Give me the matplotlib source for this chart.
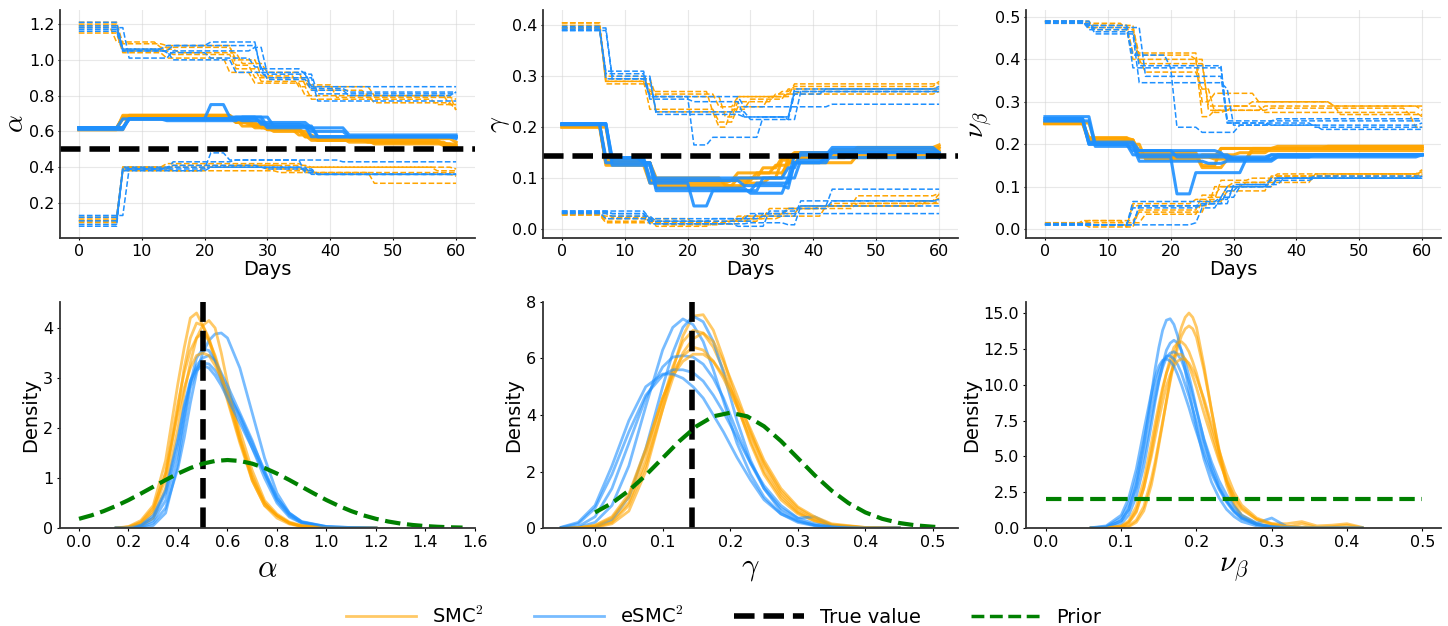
import numpy as np
import matplotlib
matplotlib.use("Agg")
import matplotlib.pyplot as plt
from matplotlib.lines import Line2D

plt.rcParams['mathtext.fontset'] = 'cm'

ORANGE = "orange"
BLUE = "dodgerblue"

# ---- top row: (day, value) change points per run, 5 runs per method ----
ALPHA_SMC_MED = [
    [(0, 0.61), (7, 0.69), (25, 0.66), (27, 0.64), (30, 0.61), (36, 0.57), (38, 0.55), (47, 0.53), (60, 0.51)],
    [(0, 0.62), (7, 0.68), (25, 0.65), (28, 0.62), (31, 0.60), (37, 0.56), (43, 0.54), (58, 0.52)],
    [(0, 0.61), (7, 0.68), (24, 0.67), (26, 0.63), (30, 0.61), (35, 0.58), (37, 0.55), (58, 0.53)],
    [(0, 0.61), (8, 0.69), (25, 0.66), (28, 0.63), (32, 0.61), (36, 0.57), (38, 0.55), (46, 0.54), (59, 0.52)],
    [(0, 0.62), (7, 0.67), (15, 0.68), (25, 0.65), (29, 0.62), (36, 0.58), (38, 0.56), (60, 0.54)],
]
ALPHA_SMC_HI = [
    [(0, 1.21), (7, 1.09), (14, 1.08), (25, 0.97), (28, 0.90), (37, 0.85), (47, 0.80), (59, 0.75)],
    [(0, 1.20), (7, 1.05), (15, 1.03), (25, 0.95), (29, 0.88), (37, 0.83), (46, 0.80), (60, 0.72)],
    [(0, 1.19), (7, 1.06), (16, 1.04), (26, 0.98), (30, 0.93), (36, 0.86), (41, 0.79), (60, 0.78)],
    [(0, 1.15), (7, 1.04), (14, 1.01), (24, 0.93), (28, 0.87), (36, 0.80), (47, 0.76), (60, 0.72)],
    [(0, 1.18), (6, 1.10), (13, 1.07), (25, 1.00), (29, 0.91), (35, 0.85), (37, 0.78), (57, 0.75)],
]
ALPHA_SMC_LO = [
    [(0, 0.10), (7, 0.40), (15, 0.38), (32, 0.37), (47, 0.31)],
    [(0, 0.11), (7, 0.39), (15, 0.41), (37, 0.40), (60, 0.39)],
    [(0, 0.09), (7, 0.40), (25, 0.41), (33, 0.38), (38, 0.36), (60, 0.35)],
    [(0, 0.12), (7, 0.38), (20, 0.40), (30, 0.39), (37, 0.37)],
    [(0, 0.10), (7, 0.40), (14, 0.42), (36, 0.40), (57, 0.38)],
]
ALPHA_ESMC_MED = [
    [(0, 0.62), (8, 0.67), (21, 0.75), (24, 0.68), (30, 0.63), (37, 0.57), (60, 0.57)],
    [(0, 0.62), (8, 0.67), (25, 0.68), (29, 0.64), (36, 0.63), (38, 0.57), (60, 0.56)],
    [(0, 0.62), (7, 0.67), (14, 0.66), (26, 0.68), (31, 0.63), (37, 0.60), (43, 0.57)],
    [(0, 0.62), (8, 0.67), (25, 0.67), (29, 0.65), (37, 0.62), (43, 0.58), (60, 0.58)],
    [(0, 0.61), (8, 0.67), (26, 0.66), (30, 0.62), (38, 0.57)],
]
ALPHA_ESMC_HI = [
    [(0, 1.19), (7, 1.06), (14, 1.08), (21, 1.10), (29, 0.93), (37, 0.85), (60, 0.85)],
    [(0, 1.18), (8, 1.01), (15, 1.05), (28, 1.07), (30, 0.92), (37, 0.84), (43, 0.82)],
    [(0, 1.17), (7, 1.05), (15, 1.08), (29, 0.95), (36, 0.92), (38, 0.81)],
    [(0, 1.21), (7, 1.06), (14, 1.04), (21, 1.01), (28, 0.96), (30, 0.89), (37, 0.83), (43, 0.80), (60, 0.82)],
    [(0, 1.16), (7, 1.05), (15, 1.00), (25, 0.93), (30, 0.90), (38, 0.77), (60, 0.77)],
]
ALPHA_ESMC_LO = [
    [(0, 0.13), (8, 0.39), (21, 0.48), (24, 0.44), (36, 0.37), (38, 0.36)],
    [(0, 0.07), (7, 0.39), (15, 0.43), (25, 0.44), (42, 0.43)],
    [(0, 0.12), (7, 0.40), (15, 0.41), (29, 0.40), (36, 0.38), (38, 0.36)],
    [(0, 0.08), (7, 0.39), (14, 0.40), (37, 0.36), (60, 0.36)],
    [(0, 0.10), (7, 0.38), (21, 0.40), (30, 0.39), (38, 0.36)],
]

GAMMA_SMC_MED = [
    [(0, 0.205), (7, 0.13), (15, 0.085), (28, 0.10), (32, 0.12), (35, 0.14), (37, 0.15), (47, 0.16), (60, 0.165)],
    [(0, 0.205), (7, 0.125), (14, 0.09), (27, 0.095), (31, 0.11), (36, 0.13), (38, 0.14), (46, 0.15), (60, 0.155)],
    [(0, 0.200), (7, 0.13), (15, 0.08), (29, 0.09), (33, 0.10), (36, 0.14), (43, 0.155), (60, 0.16)],
    [(0, 0.205), (7, 0.135), (14, 0.095), (28, 0.11), (34, 0.125), (37, 0.145), (46, 0.14), (59, 0.15)],
    [(0, 0.200), (8, 0.13), (15, 0.10), (26, 0.085), (30, 0.10), (35, 0.135), (37, 0.13), (47, 0.145), (60, 0.16)],
]
GAMMA_SMC_HI = [
    [(0, 0.405), (7, 0.29), (14, 0.265), (25, 0.24), (28, 0.26), (35, 0.27), (37, 0.28), (60, 0.29)],
    [(0, 0.400), (7, 0.285), (15, 0.23), (25, 0.20), (27, 0.235), (30, 0.255), (36, 0.275), (60, 0.28)],
    [(0, 0.395), (7, 0.30), (14, 0.27), (24, 0.23), (28, 0.26), (37, 0.285), (60, 0.285)],
    [(0, 0.405), (7, 0.295), (15, 0.26), (26, 0.22), (28, 0.25), (34, 0.265), (38, 0.27), (60, 0.275)],
    [(0, 0.395), (7, 0.29), (14, 0.235), (25, 0.21), (28, 0.24), (33, 0.26), (36, 0.265), (60, 0.27)],
]
GAMMA_SMC_LO = [
    [(0, 0.030), (7, 0.015), (14, 0.02), (21, 0.01), (28, 0.02), (33, 0.04), (41, 0.045), (47, 0.065), (60, 0.07)],
    [(0, 0.028), (7, 0.025), (15, 0.005), (24, 0.01), (29, 0.025), (35, 0.03), (38, 0.045), (57, 0.055), (60, 0.06)],
    [(0, 0.032), (8, 0.022), (15, 0.012), (27, 0.015), (32, 0.03), (36, 0.04), (43, 0.05), (60, 0.055)],
    [(0, 0.030), (7, 0.02), (14, 0.015), (28, 0.025), (36, 0.04), (47, 0.05), (60, 0.05)],
    [(0, 0.027), (7, 0.012), (16, 0.008), (26, 0.015), (30, 0.02), (35, 0.025), (42, 0.045), (58, 0.055), (60, 0.068)],
]
GAMMA_ESMC_MED = [
    [(0, 0.207), (8, 0.135), (14, 0.09), (21, 0.045), (24, 0.075), (32, 0.10), (37, 0.145), (43, 0.16), (60, 0.15)],
    [(0, 0.205), (8, 0.14), (14, 0.10), (30, 0.10), (36, 0.12), (38, 0.15), (60, 0.14)],
    [(0, 0.205), (7, 0.13), (15, 0.075), (28, 0.075), (31, 0.09), (37, 0.13), (43, 0.15), (60, 0.145)],
    [(0, 0.207), (8, 0.125), (15, 0.08), (30, 0.07), (36, 0.10), (38, 0.135), (43, 0.155), (60, 0.15)],
    [(0, 0.205), (7, 0.14), (13, 0.13), (15, 0.095), (29, 0.085), (36, 0.08), (37, 0.13), (42, 0.14)],
]
GAMMA_ESMC_HI = [
    [(0, 0.390), (7, 0.31), (14, 0.26), (21, 0.165), (24, 0.18), (32, 0.22), (37, 0.275), (60, 0.275)],
    [(0, 0.395), (8, 0.30), (15, 0.225), (29, 0.22), (36, 0.215), (38, 0.27), (60, 0.27)],
    [(0, 0.392), (7, 0.295), (14, 0.26), (29, 0.24), (43, 0.245)],
    [(0, 0.390), (8, 0.295), (15, 0.23), (30, 0.215), (37, 0.265), (42, 0.275), (60, 0.28)],
    [(0, 0.398), (7, 0.305), (14, 0.255), (21, 0.25), (29, 0.22), (37, 0.27), (60, 0.27)],
]
GAMMA_ESMC_LO = [
    [(0, 0.035), (14, 0.02), (32, 0.025), (38, 0.055), (60, 0.058)],
    [(0, 0.033), (8, 0.03), (14, 0.01), (30, 0.012), (36, 0.008), (38, 0.045), (43, 0.078), (60, 0.078)],
    [(0, 0.030), (8, 0.025), (15, 0.015), (31, 0.03)],
    [(0, 0.032), (7, 0.02), (15, 0.01), (28, 0.005), (33, 0.035), (38, 0.045), (60, 0.045)],
    [(0, 0.035), (8, 0.03), (14, 0.015), (24, 0.02), (30, 0.03), (36, 0.04), (43, 0.055)],
]

NU_SMC_MED = [
    [(0, 0.250), (7, 0.215), (14, 0.21), (15, 0.18), (25, 0.15), (28, 0.19), (37, 0.195)],
    [(0, 0.250), (7, 0.21), (15, 0.175), (25, 0.145), (29, 0.165), (33, 0.19)],
    [(0, 0.250), (8, 0.205), (15, 0.17), (28, 0.19)],
    [(0, 0.250), (7, 0.215), (14, 0.20), (16, 0.165), (25, 0.175), (31, 0.18), (36, 0.19), (45, 0.195)],
    [(0, 0.248), (7, 0.205), (13, 0.21), (15, 0.17), (27, 0.165), (33, 0.185)],
]
NU_SMC_HI = [
    [(0, 0.490), (7, 0.48), (14, 0.415), (25, 0.30), (27, 0.32), (34, 0.30), (46, 0.29), (60, 0.28)],
    [(0, 0.487), (7, 0.485), (13, 0.47), (15, 0.40), (25, 0.265), (27, 0.28), (35, 0.29), (47, 0.27), (59, 0.24)],
    [(0, 0.485), (7, 0.475), (15, 0.41), (24, 0.40), (26, 0.28), (30, 0.29), (33, 0.30), (46, 0.29)],
    [(0, 0.490), (8, 0.47), (14, 0.40), (16, 0.37), (25, 0.33), (27, 0.275), (29, 0.28), (36, 0.285), (58, 0.27)],
    [(0, 0.488), (7, 0.48), (15, 0.39), (26, 0.29), (35, 0.275), (60, 0.265)],
]
NU_SMC_LO = [
    [(0, 0.015), (7, 0.02), (13, 0.005), (14, 0.06), (24, 0.07), (28, 0.115), (33, 0.12), (37, 0.13), (60, 0.14)],
    [(0, 0.012), (7, 0.005), (15, 0.045), (25, 0.08), (28, 0.10), (32, 0.11), (43, 0.13), (60, 0.135)],
    [(0, 0.015), (16, 0.035), (25, 0.065), (29, 0.09), (36, 0.125), (60, 0.13)],
    [(0, 0.013), (7, 0.01), (14, 0.055), (27, 0.10), (30, 0.11), (36, 0.12), (59, 0.125)],
    [(0, 0.010), (6, 0.02), (15, 0.04), (26, 0.075), (29, 0.10), (37, 0.125), (47, 0.13)],
]
NU_ESMC_MED = [
    [(0, 0.265), (8, 0.20), (15, 0.17), (21, 0.083), (24, 0.133), (31, 0.133), (32, 0.165), (37, 0.175)],
    [(0, 0.260), (7, 0.205), (15, 0.185), (28, 0.18), (29, 0.165), (37, 0.17), (60, 0.175)],
    [(0, 0.255), (7, 0.20), (14, 0.175), (30, 0.165), (36, 0.175)],
    [(0, 0.255), (8, 0.195), (15, 0.16), (26, 0.155), (29, 0.16), (37, 0.17), (43, 0.175)],
    [(0, 0.260), (7, 0.20), (14, 0.185), (21, 0.17), (36, 0.175)],
]
NU_ESMC_HI = [
    [(0, 0.490), (7, 0.47), (14, 0.41), (20, 0.38), (21, 0.24), (25, 0.228), (31, 0.245), (36, 0.255)],
    [(0, 0.490), (8, 0.465), (15, 0.385), (29, 0.25), (43, 0.24)],
    [(0, 0.487), (7, 0.48), (14, 0.38), (29, 0.255), (37, 0.26)],
    [(0, 0.485), (8, 0.46), (15, 0.345), (29, 0.33), (30, 0.245), (44, 0.235)],
    [(0, 0.490), (7, 0.475), (16, 0.36), (29, 0.25), (36, 0.245), (60, 0.25)],
]
NU_ESMC_LO = [
    [(0, 0.010), (24, 0.015), (25, 0.05), (28, 0.075), (31, 0.10), (37, 0.12)],
    [(0, 0.012), (7, 0.01), (14, 0.065), (28, 0.075), (29, 0.10), (36, 0.12), (60, 0.125)],
    [(0, 0.010), (15, 0.055), (26, 0.06), (29, 0.09), (31, 0.105), (38, 0.12), (43, 0.125)],
    [(0, 0.013), (8, 0.01), (14, 0.05), (25, 0.06), (28, 0.07), (30, 0.10), (37, 0.12)],
    [(0, 0.010), (15, 0.055), (25, 0.06), (30, 0.105), (36, 0.115), (43, 0.12)],
]

ALPHA_TRUE = 0.5
GAMMA_TRUE = 0.143

# ---- bottom row: posterior density curves read on a shared grid ----
ALPHA_GRID = [0.15, 0.2, 0.25, 0.3, 0.35, 0.4, 0.425, 0.45, 0.475, 0.5, 0.525, 0.55,
              0.575, 0.6, 0.65, 0.7, 0.75, 0.8, 0.85, 0.9, 1.0, 1.1, 1.2]
ALPHA_SMC_KDE = [
    [0, 0.03, 0.15, 0.45, 1.35, 2.9, 3.6, 4.2, 4.3, 4.05, 3.75, 3.35, 2.95, 2.55, 1.7, 0.95, 0.45, 0.25, 0.1, 0.04, 0, 0, 0],
    [0, 0.01, 0.08, 0.3, 1.0, 2.4, 3.2, 3.8, 4.1, 4.05, 3.8, 3.4, 3.0, 2.6, 1.75, 1.0, 0.5, 0.25, 0.1, 0.03, 0, 0, 0],
    [0, 0, 0.05, 0.2, 0.8, 2.0, 2.7, 3.3, 3.8, 4.05, 4.15, 4.0, 3.5, 2.9, 1.8, 0.95, 0.45, 0.2, 0.08, 0.03, 0, 0, 0],
    [0, 0.02, 0.1, 0.35, 1.1, 2.5, 3.1, 3.55, 3.8, 3.9, 3.75, 3.45, 3.05, 2.65, 1.8, 1.05, 0.5, 0.25, 0.1, 0.04, 0, 0, 0],
    [0, 0.02, 0.12, 0.4, 1.1, 2.3, 2.8, 3.2, 3.45, 3.5, 3.45, 3.25, 3.0, 2.7, 1.95, 1.15, 0.55, 0.28, 0.12, 0.05, 0.01, 0, 0],
]
ALPHA_ESMC_KDE = [
    [0, 0, 0.02, 0.1, 0.4, 1.2, 1.8, 2.5, 3.1, 3.5, 3.75, 3.88, 3.9, 3.8, 3.2, 2.3, 1.4, 0.7, 0.3, 0.12, 0.02, 0.01, 0],
    [0, 0, 0.03, 0.15, 0.55, 1.5, 2.2, 2.9, 3.4, 3.58, 3.55, 3.35, 3.05, 2.75, 2.2, 1.6, 1.0, 0.5, 0.22, 0.1, 0.02, 0, 0],
    [0, 0, 0.05, 0.2, 0.7, 1.7, 2.4, 2.9, 3.25, 3.4, 3.45, 3.35, 3.1, 2.85, 2.3, 1.75, 1.1, 0.55, 0.25, 0.1, 0.02, 0, 0],
    [0, 0.01, 0.06, 0.25, 0.75, 1.8, 2.45, 2.95, 3.2, 3.3, 3.28, 3.15, 2.95, 2.7, 2.25, 1.7, 1.15, 0.6, 0.28, 0.12, 0.03, 0.01, 0],
    [0, 0, 0, 0.05, 0.3, 1.3, 2.1, 2.8, 3.15, 3.25, 3.2, 3.05, 2.85, 2.6, 2.1, 1.6, 1.1, 0.6, 0.3, 0.13, 0.03, 0.01, 0],
]

GAMMA_GRID = [-0.05, -0.025, 0.0, 0.025, 0.05, 0.075, 0.1, 0.115, 0.13, 0.145, 0.16, 0.175,
              0.19, 0.21, 0.23, 0.25, 0.275, 0.3, 0.325, 0.35, 0.4, 0.45]
GAMMA_SMC_KDE = [
    [0, 0, 0.02, 0.15, 0.6, 2.0, 4.2, 5.6, 6.8, 7.5, 7.55, 7.0, 6.0, 4.4, 3.0, 1.9, 1.0, 0.5, 0.25, 0.08, 0.01, 0],
    [0, 0, 0.05, 0.25, 0.9, 2.4, 4.5, 5.7, 6.6, 7.0, 6.9, 6.4, 5.6, 4.3, 3.1, 2.0, 1.1, 0.55, 0.25, 0.08, 0.01, 0],
    [0, 0, 0.03, 0.2, 0.8, 2.2, 4.2, 5.3, 6.2, 6.7, 6.9, 6.6, 5.9, 4.7, 3.4, 2.2, 1.2, 0.6, 0.3, 0.1, 0.01, 0],
    [0, 0.01, 0.08, 0.35, 1.1, 2.7, 4.6, 5.5, 6.1, 6.4, 6.3, 5.9, 5.3, 4.3, 3.3, 2.3, 1.3, 0.7, 0.35, 0.12, 0.02, 0],
    [0, 0.01, 0.1, 0.4, 1.2, 2.8, 4.6, 5.4, 5.9, 6.15, 6.15, 5.9, 5.4, 4.5, 3.5, 2.4, 1.4, 0.75, 0.4, 0.15, 0.02, 0],
]
GAMMA_ESMC_KDE = [
    [0, 0.02, 0.2, 0.8, 2.2, 4.3, 6.3, 7.1, 7.4, 7.2, 6.6, 5.6, 4.5, 3.0, 1.9, 1.1, 0.5, 0.2, 0.08, 0.02, 0, 0],
    [0, 0, 0.05, 0.3, 1.1, 2.8, 5.0, 6.2, 7.1, 7.5, 7.3, 6.6, 5.5, 3.8, 2.4, 1.4, 0.6, 0.25, 0.1, 0.03, 0, 0],
    [0, 0.05, 0.4, 1.4, 3.0, 4.6, 5.7, 6.05, 6.1, 6.05, 5.8, 5.3, 4.6, 3.4, 2.3, 1.4, 0.7, 0.35, 0.4, 0.1, 0, 0],
    [0.02, 0.15, 0.7, 1.9, 3.4, 4.7, 5.4, 5.6, 5.6, 5.5, 5.2, 4.7, 4.1, 3.2, 2.3, 1.5, 0.8, 0.35, 0.15, 0.05, 0, 0],
    [0.03, 0.2, 0.8, 2.2, 3.8, 5.0, 5.45, 5.45, 5.3, 5.0, 4.6, 4.0, 3.4, 2.5, 1.7, 1.0, 0.5, 0.25, 0.1, 0.03, 0, 0],
]

NU_GRID = [0.06, 0.08, 0.1, 0.11, 0.12, 0.13, 0.14, 0.145, 0.15, 0.155, 0.16, 0.165, 0.17, 0.175,
           0.18, 0.185, 0.19, 0.195, 0.2, 0.21, 0.22, 0.23, 0.24, 0.25, 0.26, 0.28, 0.3, 0.32,
           0.34, 0.36, 0.38, 0.4, 0.42]
NU_SMC_KDE = [
    [0, 0, 0.02, 0.1, 0.4, 1.2, 3.0, 4.3, 5.8, 7.3, 8.9, 10.4, 11.8, 13.0, 14.0, 14.7, 15.0, 14.7, 14.0,
     11.3, 8.2, 5.3, 3.0, 1.6, 0.8, 0.25, 0.08, 0.02, 0, 0, 0, 0, 0],
    [0, 0, 0.03, 0.15, 0.55, 1.5, 3.4, 4.6, 6.0, 7.4, 8.8, 10.2, 11.5, 12.6, 13.4, 13.9, 14.1, 13.9, 13.3,
     11.0, 8.2, 5.5, 3.3, 1.8, 0.9, 0.3, 0.1, 0.05, 0.3, 0.05, 0.1, 0.2, 0.02],
    [0, 0.01, 0.08, 0.35, 1.1, 2.8, 5.3, 6.8, 8.2, 9.6, 10.8, 11.8, 12.6, 12.9, 13.0, 12.75, 12.3, 11.6, 10.8,
     8.8, 6.8, 4.9, 3.3, 2.1, 1.3, 0.6, 0.3, 0.3, 0.45, 0.15, 0.2, 0.3, 0.05],
    [0, 0.02, 0.15, 0.5, 1.5, 3.3, 5.9, 7.3, 8.6, 9.8, 10.8, 11.5, 12.0, 12.15, 12.1, 11.8, 11.3, 10.6, 9.8,
     8.0, 6.3, 4.7, 3.3, 2.2, 1.4, 0.6, 0.25, 0.1, 0.05, 0.02, 0, 0, 0],
    [0, 0.01, 0.1, 0.4, 1.2, 2.8, 5.0, 6.3, 7.6, 8.8, 9.9, 10.7, 11.3, 11.65, 11.8, 11.75, 11.5, 11.05, 10.5,
     9.0, 7.2, 5.4, 3.8, 2.5, 1.6, 0.7, 0.3, 0.1, 0.03, 0.01, 0, 0, 0],
]
NU_ESMC_KDE = [
    [0, 0.05, 0.5, 1.3, 3.0, 5.8, 9.3, 11.1, 12.6, 13.8, 14.5, 14.6, 14.2, 13.4, 12.3, 11.0, 9.6, 8.3, 7.0,
     4.8, 3.2, 2.1, 1.3, 0.8, 0.45, 0.15, 0.05, 0.01, 0, 0, 0, 0, 0],
    [0, 0.03, 0.3, 0.9, 2.2, 4.3, 7.2, 8.8, 10.2, 11.4, 12.4, 12.9, 13.1, 12.9, 12.4, 11.6, 10.6, 9.5, 8.3,
     6.1, 4.3, 2.9, 1.9, 1.2, 0.7, 0.25, 0.08, 0.02, 0, 0, 0, 0, 0],
    [0, 0.05, 0.5, 1.3, 2.8, 5.0, 7.8, 9.1, 10.3, 11.2, 11.9, 12.2, 12.3, 12.1, 11.7, 11.0, 10.2, 9.2, 8.2,
     6.2, 4.6, 3.3, 2.3, 1.5, 0.9, 0.35, 0.7, 0.1, 0.02, 0, 0, 0, 0],
    [0.01, 0.1, 0.7, 1.7, 3.5, 6.0, 8.7, 9.9, 10.9, 11.6, 12.0, 12.0, 11.8, 11.4, 10.8, 10.0, 9.2, 8.3, 7.4,
     5.6, 4.0, 2.8, 1.9, 1.2, 0.7, 0.3, 0.1, 0.03, 0, 0, 0, 0, 0],
    [0.02, 0.15, 0.9, 2.1, 4.1, 6.8, 9.4, 10.5, 11.3, 11.7, 11.8, 11.65, 11.3, 10.7, 10.0, 9.2, 8.4, 7.5, 6.7,
     5.1, 3.8, 2.7, 1.8, 1.1, 0.65, 0.25, 0.1, 0.04, 0.01, 0, 0, 0, 0],
]

# prior densities
ALPHA_PRIOR_X = [0.0, 0.05, 0.1, 0.15, 0.2, 0.25, 0.3, 0.35, 0.4, 0.45, 0.5, 0.55, 0.6, 0.65, 0.7, 0.75,
                 0.8, 0.85, 0.9, 0.95, 1.0, 1.05, 1.1, 1.15, 1.2, 1.25, 1.3, 1.35, 1.4, 1.45, 1.5, 1.55]
ALPHA_PRIOR_Y = [0.184, 0.253, 0.339, 0.442, 0.559, 0.689, 0.825, 0.961, 1.089, 1.2, 1.287, 1.341, 1.36, 1.341,
                 1.287, 1.2, 1.089, 0.961, 0.825, 0.689, 0.559, 0.442, 0.339, 0.253, 0.184, 0.13, 0.089, 0.06,
                 0.039, 0.025, 0.015, 0.009]
GAMMA_PRIOR_X = [0.0, 0.025, 0.05, 0.075, 0.1, 0.125, 0.15, 0.175, 0.2, 0.225, 0.25, 0.275, 0.3, 0.325,
                 0.35, 0.375, 0.4, 0.425, 0.45, 0.475, 0.5, 0.51]
GAMMA_PRIOR_Y = [0.552, 0.882, 1.325, 1.868, 2.475, 3.08, 3.601, 3.954, 4.08, 3.954, 3.601, 3.08, 2.475, 1.868,
                 1.325, 0.882, 0.552, 0.325, 0.179, 0.093, 0.045, 0.03]
NU_PRIOR_X = [0.0, 0.5]
NU_PRIOR_Y = [2.0, 2.0]


def step_path(steps, last_day=60):
    days = [steps[0][0]]
    vals = [steps[0][1]]
    for d, v in steps[1:]:
        days += [d - 1, d]
        vals += [vals[-1], v]
    if days[-1] < last_day:
        days.append(last_day)
        vals.append(vals[-1])
    return days, vals


def draw_traces(ax, med, lo, hi, color):
    for runs, ls, lw, al in [(hi, '--', 1.1, 1.0), (lo, '--', 1.1, 1.0), (med, '-', 2.2, 0.9)]:
        for steps in runs:
            d, v = step_path(steps)
            ax.plot(d, v, ls, color=color, lw=lw, alpha=al)


def style_spines(ax):
    for s in ['top', 'right']:
        ax.spines[s].set_visible(False)
    for s in ['left', 'bottom']:
        ax.spines[s].set_linewidth(1.3)
        ax.spines[s].set_color('#333333')


fig = plt.figure(figsize=(14.48, 6.26), dpi=100)
W = 0.2866
lefts = [0.0414, 0.375, 0.7086]
top_axes = [fig.add_axes([l, 0.6198, W, 0.364]) for l in lefts]
bot_axes = [fig.add_axes([l, 0.1565, W, 0.3611]) for l in lefts]

tick_fs = 11.5

top_data = [
    (ALPHA_SMC_MED, ALPHA_SMC_LO, ALPHA_SMC_HI, ALPHA_ESMC_MED, ALPHA_ESMC_LO, ALPHA_ESMC_HI, r'$\alpha$', ALPHA_TRUE, (0.004, 1.278), np.arange(0.2, 1.21, 0.2)),
    (GAMMA_SMC_MED, GAMMA_SMC_LO, GAMMA_SMC_HI, GAMMA_ESMC_MED, GAMMA_ESMC_LO, GAMMA_ESMC_HI, r'$\gamma$', GAMMA_TRUE, (-0.018, 0.43), np.arange(0.0, 0.41, 0.1)),
    (NU_SMC_MED, NU_SMC_LO, NU_SMC_HI, NU_ESMC_MED, NU_ESMC_LO, NU_ESMC_HI, r'$\nu_\beta$', None, (-0.021, 0.516), np.arange(0.0, 0.51, 0.1)),
]
for ax, (sm, sl, sh, em, el, eh, lab, truth, ylim, yt) in zip(top_axes, top_data):
    draw_traces(ax, sm, sl, sh, ORANGE)
    draw_traces(ax, em, el, eh, BLUE)
    if truth is not None:
        ax.axhline(truth, color='black', ls='--', lw=4)
    ax.set_xlim(-3, 63)
    ax.set_ylim(*ylim)
    ax.set_yticks(yt)
    ax.set_xticks(range(0, 61, 10))
    ax.grid(True, color='lightgray', alpha=0.5, lw=0.8)
    ax.set_xlabel('Days', fontsize=14, labelpad=1)
    ax.set_ylabel(lab, fontsize=20, labelpad=0)
    ax.tick_params(labelsize=tick_fs, length=1.5, pad=2.5)
    style_spines(ax)

bot_data = [
    (ALPHA_GRID, ALPHA_SMC_KDE, ALPHA_ESMC_KDE, ALPHA_PRIOR_X, ALPHA_PRIOR_Y, ALPHA_TRUE, r'$\alpha$',
     (-0.077, 1.6), (0, 4.52), np.arange(0, 1.61, 0.2), [0, 1, 2, 3, 4]),
    (GAMMA_GRID, GAMMA_SMC_KDE, GAMMA_ESMC_KDE, GAMMA_PRIOR_X, GAMMA_PRIOR_Y, GAMMA_TRUE, r'$\gamma$',
     (-0.077, 0.537), (0, 8.0), np.arange(0, 0.51, 0.1), [0, 2, 4, 6, 8]),
    (NU_GRID, NU_SMC_KDE, NU_ESMC_KDE, NU_PRIOR_X, NU_PRIOR_Y, None, r'$\nu_\beta$',
     (-0.0265, 0.525), (0, 15.77), np.arange(0, 0.51, 0.1), np.arange(0, 15.1, 2.5)),
]
for ax, (grid, skde, ekde, px, py, truth, lab, xlim, ylim, xt, yt) in zip(bot_axes, bot_data):
    for a, b in zip(skde, ekde):
        ax.plot(grid, a, color=ORANGE, lw=2, alpha=0.6)
        ax.plot(grid, b, color=BLUE, lw=2, alpha=0.6)
    if truth is not None:
        ax.axvline(truth, color='black', ls='--', lw=4)
    ax.plot(px, py, '--', color='green', lw=3)
    ax.set_xlim(*xlim)
    ax.set_ylim(*ylim)
    ax.set_xticks(xt)
    ax.set_yticks(yt)
    ax.set_xlabel(lab, fontsize=22, labelpad=3)
    ax.set_ylabel('Density', fontsize=14, labelpad=2)
    ax.tick_params(labelsize=tick_fs, length=2.5, pad=2.5)
    style_spines(ax)

handles = [
    Line2D([], [], color=ORANGE, lw=2, alpha=0.6),
    Line2D([], [], color=BLUE, lw=2, alpha=0.6),
    Line2D([], [], color='black', ls='--', lw=4),
    Line2D([], [], color='green', ls='--', lw=2.5),
]
fig.legend(handles, [r'SMC$^2$', r'eSMC$^2$', 'True value', 'Prior'], loc='center',
           bbox_to_anchor=(0.5, 0.016), ncol=4, frameon=False, fontsize=14,
           handlelength=3.6, columnspacing=2.6)

fig.savefig('out.png', dpi=100)
